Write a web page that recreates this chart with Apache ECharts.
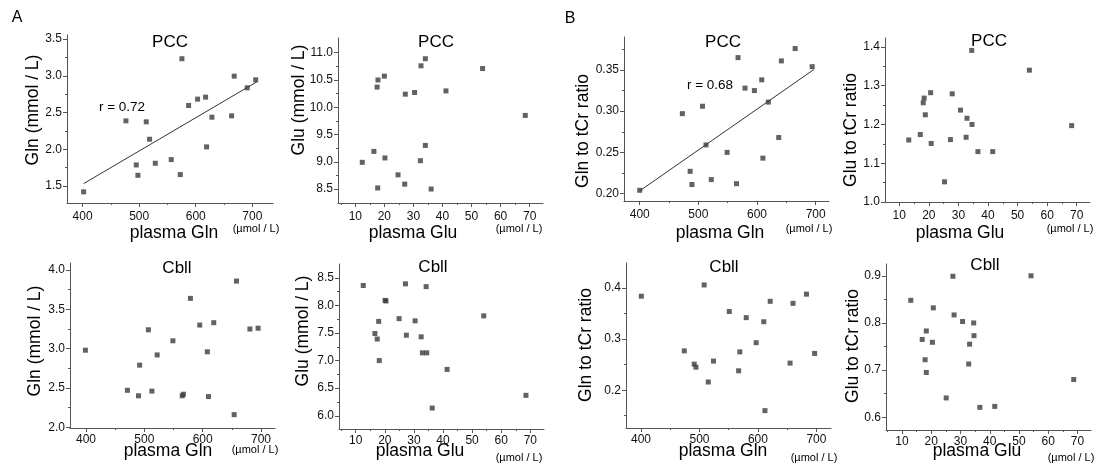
<!DOCTYPE html>
<html><head><meta charset="utf-8">
<script src="https://cdn.jsdelivr.net/npm/echarts@6/dist/echarts.min.js"></script>
<style>html,body{margin:0;padding:0;background:#fff}#c{width:1097px;height:468px}</style>
</head><body><div id="c"></div>
<script>
// ---------------- data ----------------
// A, PCC: Gln (mmol/L) vs plasma Gln
const a1PlasmaGln = [401.8, 476.6, 494.9, 497.8, 512.5, 518.4, 528.5, 556.7, 572.7, 575.6, 587.4, 603.3, 617.4, 619.2, 628.6, 663.4, 668, 691, 706];
const a1Gln = [1.42, 2.386, 1.786, 1.645, 2.373, 2.136, 1.809, 1.859, 1.655, 3.232, 2.595, 2.682, 2.709, 2.032, 2.436, 2.455, 2.995, 2.836, 2.945];
const a1FitX = [401.8, 708.2];
const a1FitY = [1.532, 2.918];
// A, PCC: Glu (mmol/L) vs plasma Glu
const a2PlasmaGlu = [12.4, 16.4, 17.7, 17.5, 17.8, 20.0, 20.2, 24.7, 27.0, 27.2, 30.4, 32.4, 32.6, 34.1, 34.1, 36.1, 41.2, 53.8, 68.5];
const a2Glu = [8.99, 9.19, 8.52, 10.37, 10.5, 10.57, 9.07, 8.76, 8.59, 10.24, 10.27, 9.02, 10.76, 9.30, 10.89, 8.5, 10.30, 10.71, 9.85];
// A, Cbll: Gln vs plasma Gln
const a3PlasmaGln = [399, 471, 490, 492, 507, 513, 522, 549, 565, 567, 579, 595, 608, 610, 619, 654, 658, 681, 695];
const a3Gln = [2.98, 2.47, 2.40, 2.79, 3.24, 2.46, 2.92, 3.10, 2.40, 2.42, 3.64, 3.30, 2.96, 2.39, 3.33, 2.16, 3.86, 3.25, 3.26];
// A, Cbll: Glu vs plasma Glu
const a4PlasmaGlu = [12.6, 16.6, 17.4, 17.9, 18.1, 20.1, 20.4, 24.9, 27.1, 27.4, 30.4, 32.5, 32.9, 34.2, 34.4, 36.3, 41.4, 54.0, 68.5];
const a4Glu = [8.36, 7.49, 7.39, 7.71, 7.0, 8.09, 8.08, 7.76, 8.39, 7.46, 7.72, 7.43, 7.14, 8.34, 7.14, 6.14, 6.84, 7.81, 6.37];
// B, PCC: Gln/tCr vs plasma Gln
const b1PlasmaGln = [400, 472.7, 486, 489, 507, 513, 522, 549, 565, 567.6, 579.5, 595.5, 608, 610, 619.3, 637, 641.5, 665, 694];
const b1GlnRatio = [0.204, 0.297, 0.227, 0.211, 0.306, 0.259, 0.217, 0.25, 0.212, 0.365, 0.328, 0.325, 0.338, 0.243, 0.311, 0.268, 0.361, 0.376, 0.354];
const b1FitX = [400, 696.6];
const b1FitY = [0.2033, 0.3504];
// B, PCC: Glu/tCr vs plasma Glu
const b2PlasmaGlu = [13.2, 17.1, 18.1, 18.4, 18.8, 20.6, 20.8, 25.3, 27.3, 27.9, 30.7, 32.6, 32.9, 34.5, 34.6, 36.6, 41.6, 54.0, 68.3];
const b2GluRatio = [1.16, 1.174, 1.256, 1.268, 1.225, 1.282, 1.151, 1.052, 1.161, 1.279, 1.237, 1.167, 1.216, 1.391, 1.2, 1.13, 1.13, 1.34, 1.197];
// B, Cbll: Gln/tCr vs plasma Gln
const b3PlasmaGln = [400.5, 474, 491, 494, 508, 515, 524, 551, 567, 569, 580, 597, 610, 612, 621, 655, 660, 683, 697];
const b3GlnRatio = [0.384, 0.277, 0.251, 0.245, 0.406, 0.216, 0.257, 0.354, 0.238, 0.275, 0.342, 0.293, 0.334, 0.16, 0.374, 0.253, 0.370, 0.388, 0.272];
// B, Cbll: Glu/tCr vs plasma Glu
const b4PlasmaGlu = [13.0, 16.9, 17.9, 18.3, 18.3, 20.4, 20.7, 25.1, 27.4, 27.8, 30.7, 32.8, 33.1, 34.5, 34.6, 36.6, 41.7, 54.1, 68.7];
const b4GluRatio = [0.848, 0.765, 0.722, 0.783, 0.695, 0.759, 0.832, 0.641, 0.899, 0.817, 0.803, 0.713, 0.755, 0.800, 0.773, 0.621, 0.623, 0.9, 0.68];

// tick values
const glnXTicks = [400, 500, 600, 700];
const glnXMinor = [450, 550, 650];
const gluXTicks = [10, 20, 30, 40, 50, 60, 70];
const gluXMinor = [5, 15, 25, 35, 45, 55, 65];
const a1YTicks = [1.5, 2.0, 2.5, 3.0, 3.5];     const a1YMinor = [1.75, 2.25, 2.75, 3.25];
const a2YTicks = [8.5, 9.0, 9.5, 10.0, 10.5, 11.0]; const a2YMinor = [8.75, 9.25, 9.75, 10.25, 10.75];
const a3YTicks = [2.0, 2.5, 3.0, 3.5, 4.0];     const a3YMinor = [2.25, 2.75, 3.25, 3.75];
const a4YTicks = [6.0, 6.5, 7.0, 7.5, 8.0, 8.5]; const a4YMinor = [6.25, 6.75, 7.25, 7.75, 8.25];
const b1YTicks = [0.20, 0.25, 0.30, 0.35];      const b1YMinor = [0.225, 0.275, 0.325, 0.375];
const b2YTicks = [1.0, 1.1, 1.2, 1.3, 1.4];     const b2YMinor = [1.05, 1.15, 1.25, 1.35];
const b3YTicks = [0.2, 0.3, 0.4];               const b3YMinor = [0.15, 0.25, 0.35];
const b4YTicks = [0.6, 0.7, 0.8, 0.9];          const b4YMinor = [0.65, 0.75, 0.85];

// ---------------- layout ----------------
const FONT = '"Liberation Sans", Arial, Helvetica, sans-serif';
const AX = '#555';
const MARK = '#3b3b3b';
const panels = [
  {g:[67,35,206,168], xr:[372.4,736.6], yr:[1.268,3.555], xd:a1PlasmaGln, yd:a1Gln, xt:glnXTicks, xm:glnXMinor, yt:a1YTicks, ym:a1YMinor, yDec:1, lm:8,
   title:'PCC', tp:[170,42], yTitle:'Gln (mmol / L)', ytp:[33,110], xTitle:'plasma Gln', xtp:[174,233], up:[256,229], fit:[a1FitX,a1FitY]},
  {g:[338,38,205,165], xr:[4.04,74.6], yr:[8.244,11.27], xd:a2PlasmaGlu, yd:a2Glu, xt:gluXTicks, xm:gluXMinor, yt:a2YTicks, ym:a2YMinor, yDec:1, lm:8,
   title:'PCC', tp:[436,42], yTitle:'Glu (mmol / L)', ytp:[299,100], xTitle:'plasma Glu', xtp:[413,233], up:[519,229]},
  {g:[70,263,205,165], xr:[372.6,724], yr:[1.99,4.09], xd:a3PlasmaGln, yd:a3Gln, xt:glnXTicks, xm:glnXMinor, yt:a3YTicks, ym:a3YMinor, yDec:1, lm:6,
   title:'Cbll', tp:[177,268], yTitle:'Gln (mmol / L)', ytp:[35,341], xTitle:'plasma Gln', xtp:[168,451], up:[255,450]},
  {g:[339,264,205,165], xr:[4.26,74.7], yr:[5.76,8.75], xd:a4PlasmaGlu, yd:a4Glu, xt:gluXTicks, xm:gluXMinor, yt:a4YTicks, ym:a4YMinor, yDec:1, lm:6,
   title:'Cbll', tp:[433,267], yTitle:'Glu (mmol / L)', ytp:[303,331], xTitle:'plasma Glu', xtp:[420,451], up:[519,458]},
  {g:[624,37,205,164], xr:[373.2,722.7], yr:[0.191,0.390], xd:b1PlasmaGln, yd:b1GlnRatio, xt:glnXTicks, xm:glnXMinor, yt:b1YTicks, ym:b1YMinor, yDec:2, lm:8,
   title:'PCC', tp:[723,42], yTitle:'Gln to tCr ratio', ytp:[583,131], xTitle:'plasma Gln', xtp:[720,233], up:[809,229], fit:[b1FitX,b1FitY]},
  {g:[885,38,205,164], xr:[5.17,74.5], yr:[1.0,1.423], xd:b2PlasmaGlu, yd:b2GluRatio, xt:gluXTicks, xm:gluXMinor, yt:b2YTicks, ym:b2YMinor, yDec:1, lm:8,
   title:'PCC', tp:[989,41], yTitle:'Glu to tCr ratio', ytp:[851,130], xTitle:'plasma Glu', xtp:[960,233], up:[1070,229]},
  {g:[626,263,205,165], xr:[374.3,725], yr:[0.126,0.449], xd:b3PlasmaGln, yd:b3GlnRatio, xt:glnXTicks, xm:glnXMinor, yt:b3YTicks, ym:b3YMinor, yDec:1, lm:6,
   title:'Cbll', tp:[724,267], yTitle:'Gln to tCr ratio', ytp:[586,345], xTitle:'plasma Gln', xtp:[723,451], up:[814,458]},
  {g:[886,264,205,166], xr:[4.53,74.6], yr:[0.573,0.925], xd:b4PlasmaGlu, yd:b4GluRatio, xt:gluXTicks, xm:gluXMinor, yt:b4YTicks, ym:b4YMinor, yDec:1, lm:6,
   title:'Cbll', tp:[985,265], yTitle:'Glu to tCr ratio', ytp:[853,346], xTitle:'plasma Glu', xtp:[977,451], up:[1071,458]}
];

const grid = [], xAxis = [], yAxis = [], series = [], graphic = [];
function txt(t, x, y, size, rot) {
  return {type:'text', x:x, y:y, rotation:rot||0, silent:true,
    style:{text:t, font: size + 'px ' + FONT, fill:'#000', align:'center', verticalAlign:'middle',
           textAlign:'center', textVerticalAlign:'middle'}};
}
panels.forEach((p, i) => {
  grid.push({left:p.g[0], top:p.g[1], width:p.g[2], height:p.g[3], containLabel:false});
  const inR = (r) => (v) => v > r[0] && v < r[1];
  xAxis.push({type:'value', gridIndex:i, min:p.xr[0], max:p.xr[1], position:'bottom',
    axisLine:{show:true, lineStyle:{color:AX, width:1}},
    axisTick:{show:true, length:4, lineStyle:{color:AX}, customValues:p.xt},
    axisLabel:{show:true, customValues:p.xt, margin:p.lm, color:'#111', fontSize:12, fontFamily:FONT},
    splitLine:{show:false}});
  yAxis.push({type:'value', gridIndex:i, min:p.yr[0], max:p.yr[1], position:'left',
    axisLine:{show:true, lineStyle:{color:AX, width:1}},
    axisTick:{show:true, length:4, lineStyle:{color:AX}, customValues:p.yt},
    axisLabel:{show:true, customValues:p.yt, margin:5, color:'#111', fontSize:12, fontFamily:FONT,
      formatter:(v) => Number(v).toFixed(p.yDec)},
    splitLine:{show:false}});
  xAxis.push({type:'value', gridIndex:i, min:p.xr[0], max:p.xr[1], position:'bottom',
    axisLine:{show:false}, axisTick:{show:true, length:2, lineStyle:{color:AX}, customValues:p.xm.filter(inR(p.xr))},
    axisLabel:{show:false}, splitLine:{show:false}});
  yAxis.push({type:'value', gridIndex:i, min:p.yr[0], max:p.yr[1], position:'left',
    axisLine:{show:false}, axisTick:{show:true, length:2, lineStyle:{color:AX}, customValues:p.ym.filter(inR(p.yr))},
    axisLabel:{show:false}, splitLine:{show:false}});
  const xi = i * 2, yi = i * 2;
  if (p.fit) {
    series.push({type:'line', xAxisIndex:xi, yAxisIndex:yi, symbol:'none', silent:true,
      data:p.fit[0].map((v, k) => [v, p.fit[1][k]]),
      lineStyle:{color:'#333', width:1}, z:1});
  }
  series.push({type:'scatter', xAxisIndex:xi, yAxisIndex:yi, symbol:'rect', symbolSize:5,
    itemStyle:{color:MARK}, data:p.xd.map((v, k) => [v, p.yd[k]]), z:2});
  graphic.push(txt(p.title, p.tp[0], p.tp[1], 17));
  graphic.push(txt(p.yTitle, p.ytp[0], p.ytp[1], 17.5, Math.PI / 2));
  graphic.push(txt(p.xTitle, p.xtp[0], p.xtp[1], 17.5));
  graphic.push(txt('(\u00b5mol / L)', p.up[0], p.up[1], 11));
});
graphic.push(txt('A', 17, 18, 16));
graphic.push(txt('B', 570, 19, 16));
graphic.push(txt('r = 0.72', 122, 107, 13.5));
graphic.push(txt('r = 0.68', 710, 85, 13.5));

const chart = echarts.init(document.getElementById('c'), null, {renderer:'canvas'});
chart.setOption({animation:false, backgroundColor:'#fff', grid, xAxis, yAxis, series, graphic});
</script></body></html>
